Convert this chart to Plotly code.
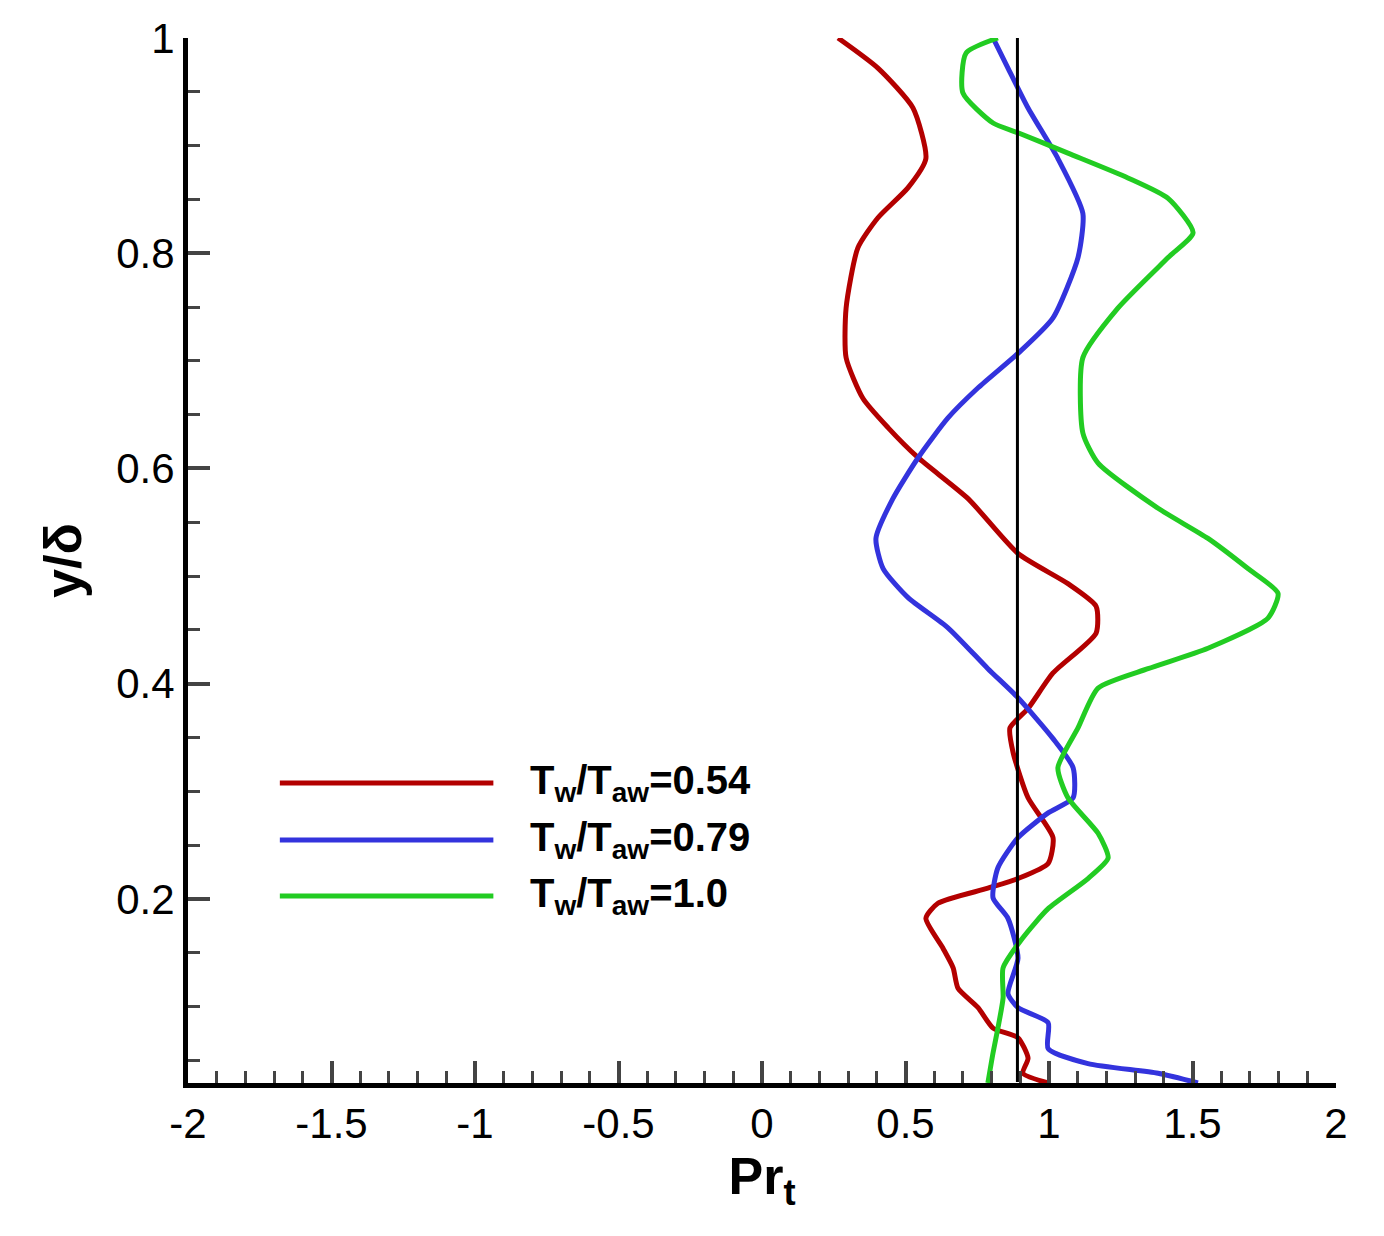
import plotly.graph_objects as go

def cx(p): return round((p-754)/287, 3)
def cy(p): return round(1-(p-30)/1076, 3)

red_x = [cx(v) for v in [830,870,905,918,900,870,850,838,838,855,880,910,960,1010,1060,1088,1088,1045,1020,1002,1005,1020,1045,1040,1010,980,930,918,935,945,950,970,985,1010,1020,1015,1040]]
red_y = [cy(v) for v in [30,60,100,150,180,210,240,300,350,390,420,450,490,545,575,598,625,665,700,720,745,790,830,855,870,880,895,910,940,960,980,1000,1020,1030,1050,1065,1075]]
blue_x = [cx(v) for v in [985,1000,1020,1050,1075,1070,1045,1010,970,940,910,885,868,875,900,940,980,1010,1045,1065,1065,1040,1010,990,985,1000,1010,1000,1010,1040,1040,1080,1150,1190]]
blue_y = [cy(v) for v in [30,60,100,150,205,250,310,345,380,410,450,490,530,560,590,620,660,690,730,760,790,805,830,860,890,910,950,985,1000,1015,1040,1055,1065,1075]]
green_x = [cx(v) for v in [990,958,955,985,1010,1060,1120,1160,1185,1160,1110,1075,1075,1090,1150,1200,1240,1270,1260,1200,1140,1090,1070,1050,1060,1090,1100,1080,1040,1015,995,995,990,985,980]]
green_y = [cy(v) for v in [30,45,85,115,125,145,170,190,225,250,300,350,425,455,500,530,560,585,610,640,660,680,720,760,790,825,850,870,900,930,960,990,1020,1045,1075]]
ref_x = [0.89, 0.89]
ref_y = [0.03, 1.0]

names = ["T<sub>w</sub>/T<sub>aw</sub>=0.54", "T<sub>w</sub>/T<sub>aw</sub>=0.79", "T<sub>w</sub>/T<sub>aw</sub>=1.0"]
colors = ["#b30000", "#3333dd", "#22cc22"]

fig = go.Figure()
for xs, ys, c in [(red_x, red_y, colors[0]), (blue_x, blue_y, colors[1]), (green_x, green_y, colors[2])]:
    fig.add_trace(go.Scatter(x=xs, y=ys, mode="lines", line=dict(color=c, width=5, shape="spline", smoothing=0.6), showlegend=False))
fig.add_trace(go.Scatter(x=ref_x, y=ref_y, mode="lines", line=dict(color="black", width=3), showlegend=False))

ly = [0.287, 0.2325, 0.179]
for n, c, yy in zip(names, colors, ly):
    fig.add_shape(type="line", xref="paper", yref="paper", x0=0.08, x1=0.266, y0=yy, y1=yy, line=dict(color=c, width=5))
    fig.add_annotation(xref="paper", yref="paper", x=0.296, y=yy, text="<b>"+n+"</b>", showarrow=False,
                       xanchor="left", yanchor="middle", font=dict(size=40, color="black"))

fig.update_layout(
    width=1384, height=1236, plot_bgcolor="white", paper_bgcolor="white",
    margin=dict(l=180, r=56, t=30, b=161),
    font=dict(family="Liberation Sans, Arial", color="black", size=42),
    xaxis=dict(range=[-2, 2], tickvals=[-2,-1.5,-1,-0.5,0,0.5,1,1.5,2], ticktext=["-2","-1.5","-1","-0.5","0","0.5","1","1.5","2"],
               ticks="inside", ticklen=22, tickwidth=4, showline=True, linewidth=5, linecolor="black", showgrid=False, zeroline=False,
               automargin=False,
               minor=dict(dtick=0.1, ticks="inside", ticklen=12, tickwidth=3),
               title=dict(text="<b>Pr<sub>t</sub></b>", font=dict(size=52), standoff=10)),
    yaxis=dict(range=[0.029, 1], tickvals=[0.2,0.4,0.6,0.8,1], ticktext=["0.2","0.4","0.6","0.8","1"],
               ticks="inside", ticklen=22, tickwidth=4, showline=True, linewidth=5, linecolor="black", showgrid=False, zeroline=False,
               automargin=False,
               minor=dict(dtick=0.05, ticks="inside", ticklen=12, tickwidth=3),
               title=dict(text="<b>y/δ</b>", font=dict(size=52), standoff=20)),
)
fig.write_html("out.html")
